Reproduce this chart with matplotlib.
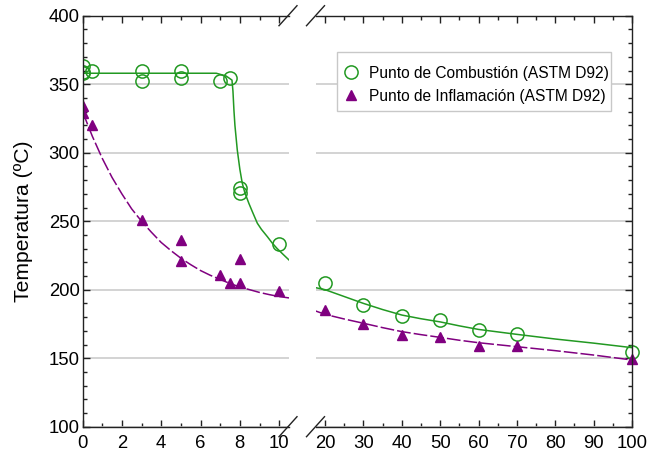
import matplotlib
matplotlib.use("Agg")
import matplotlib.pyplot as plt
from matplotlib.lines import Line2D
from matplotlib.patches import Rectangle
from matplotlib.ticker import MultipleLocator
import numpy as np

plt.rcParams['font.family'] = ['Liberation Sans', 'DejaVu Sans']

# ---- data ----
comb_x_left = [0, 0, 0, 0.5, 3, 3, 5, 5, 7, 7.5, 8, 8, 10]
comb_y_left = [363, 359, 358, 360, 360, 352, 360, 354.5, 352, 354.5, 274.5, 270.5, 233]
comb_x_right = [20, 30, 40, 50, 60, 70, 100]
comb_y_right = [205, 188.5, 180.5, 178, 170.5, 168, 154.5]

infl_x_left = [0, 0, 0.5, 3, 5, 5, 7, 7.5, 8, 8, 10]
infl_y_left = [334, 329, 320, 251, 236.5, 221, 210.5, 205, 205, 222.5, 199]
infl_x_right = [20, 30, 40, 50, 60, 70, 100]
infl_y_right = [185, 175, 167, 165.5, 159, 159, 149.5]

# fitted curves
fit_comb_left_x = [0, 6.8, 7.3, 7.6, 7.65, 7.7, 7.75, 7.87, 8.0, 8.12, 8.25, 8.46,
                   8.65, 8.89, 9.1, 9.4, 9.65, 9.9, 10.2, 10.5]
fit_comb_left_y = [358, 358, 356, 353, 345, 331, 320, 302, 288, 278, 271, 263,
                   256.5, 248.5, 244, 238.7, 234, 230, 225.8, 221.7]
fit_infl_left_x = [0, 0.5, 1, 1.5, 2, 2.5, 3, 3.5, 4, 4.5, 5, 5.5, 6, 6.5, 7, 7.5, 8, 8.5, 9, 9.5, 10, 10.5]
fit_infl_left_y = [330, 312, 296, 282, 270, 259, 250, 242, 234.5, 228.5, 223, 218.3, 214, 210.5,
                   207.5, 204.5, 202, 200, 198, 196.4, 195, 194]
fit_comb_right_x = [17.5, 20, 25, 30, 35, 40, 45, 50, 55, 60, 70, 80, 90, 100]
fit_comb_right_y = [201.5, 200, 195, 190, 185.5, 181.5, 178.8, 176.5, 173.6, 171, 167.4, 164, 161, 157.7]
fit_infl_right_x = [17.5, 20, 25, 30, 35, 40, 45, 50, 55, 60, 70, 80, 90, 100]
fit_infl_right_y = [184.5, 182, 178.6, 175.5, 172.3, 169.4, 167.2, 165.2, 163.1, 161.3, 158.4, 155.5, 152.3, 148.7]

left_ticks = [0, 2, 4, 6, 8, 10]
right_ticks = [20, 30, 40, 50, 60, 70, 80, 90, 100]
y_ticks = [100, 150, 200, 250, 300, 350, 400]

label_comb = "Punto de Combustión (ASTM D92)"
label_infl = "Punto de Inflamación (ASTM D92)"
ylabel = "Temperatura (ºC)"

GREEN = '#229922'
PURPLE = '#800080'
GRID = '#cccccc'

W, H = 652, 457
fig = plt.figure(figsize=(W / 100, H / 100), dpi=100)

y_top, y_bot = 15.7, 426.7
l1, r1 = 82.5, 289.0
l2, r2 = 315.5, 632.0
ax1 = fig.add_axes([l1 / W, 1 - y_bot / H, (r1 - l1) / W, (y_bot - y_top) / H])
ax2 = fig.add_axes([l2 / W, 1 - y_bot / H, (r2 - l2) / W, (y_bot - y_top) / H])

ms_c = 9.5
ms_t = 7

# left panel
ax1.plot(fit_comb_left_x, fit_comb_left_y, color=GREEN, lw=1.1)
ax1.plot(fit_infl_left_x, fit_infl_left_y, color=PURPLE, lw=1.1, dashes=(9, 2))
ax1.plot(comb_x_left, comb_y_left, ls='none', marker='o', ms=ms_c, mfc='none', mec=GREEN, mew=1.1)
ax1.plot(infl_x_left, infl_y_left, ls='none', marker='^', ms=ms_t, color=PURPLE)

# right panel
ax2.plot(fit_comb_right_x, fit_comb_right_y, color=GREEN, lw=1.1)
ax2.plot(fit_infl_right_x, fit_infl_right_y, color=PURPLE, lw=1.1, dashes=(9, 2))
ax2.plot(comb_x_right, comb_y_right, ls='none', marker='o', ms=ms_c, mfc='none', mec=GREEN, mew=1.1, clip_on=False)
ax2.plot(infl_x_right, infl_y_right, ls='none', marker='^', ms=ms_t, color=PURPLE, clip_on=False)

ax1.set_xlim(0, 10.5)
ax2.set_xlim(17.5, 100)
for ax in (ax1, ax2):
    ax.set_ylim(100, 400)
    ax.set_yticks(y_ticks)
    ax.yaxis.set_minor_locator(MultipleLocator(10))
    ax.grid(axis='y', which='major', color=GRID, lw=1.2)
    ax.set_axisbelow(True)
    ax.tick_params(which='both', direction='in', labelsize=13.3, width=1, color='#222222')
    ax.tick_params(which='major', length=5)
    ax.tick_params(which='minor', length=3)
    for s in ax.spines.values():
        s.set_linewidth(1)
        s.set_color('#222222')

ax1.set_xticks(left_ticks)
ax1.xaxis.set_minor_locator(MultipleLocator(1))
ax2.set_xticks(right_ticks)
ax2.xaxis.set_minor_locator(MultipleLocator(5))

ax1.spines['right'].set_visible(False)
ax2.spines['left'].set_visible(False)
ax1.tick_params(which='both', top=True, right=False, left=True, bottom=True)
ax2.tick_params(which='both', top=True, right=True, left=False, bottom=True, labelleft=False)
ax1.tick_params(axis='x', pad=6)
ax2.tick_params(axis='x', pad=6)
ax1.tick_params(axis='y', pad=2)

ax1.set_ylabel(ylabel, fontsize=15.2, labelpad=11)

# break marks (pixel coordinates)
def slash(cx, cy):
    x0, y0 = cx - 9, cy + 10
    x1, y1 = cx + 9, cy - 10
    fig.add_artist(Line2D([x0 / W, x1 / W], [1 - y0 / H, 1 - y1 / H],
                          transform=fig.transFigure, color='#222222', lw=1))

for cx in (r1 - 1, l2):
    slash(cx, y_top)
    slash(cx, y_bot)

# legend: box drawn separately, entries in a frameless legend
fig.add_artist(Rectangle((337 / W, 1 - 111 / H), (611 - 337) / W, (111 - 52) / H,
                         transform=fig.transFigure, facecolor='white', edgecolor='#c8c8c8',
                         lw=1, zorder=4))
handles = [
    Line2D([], [], ls='none', marker='o', ms=ms_c, mfc='none', mec=GREEN, mew=1.1),
    Line2D([], [], ls='none', marker='^', ms=ms_t, color=PURPLE),
]
leg = fig.legend(handles, [label_comb, label_infl], loc='upper left',
                 bbox_to_anchor=(337 / W, 1 - 58 / H), bbox_transform=fig.transFigure,
                 borderaxespad=0, fontsize=11.2, frameon=False,
                 handlelength=0.85, handletextpad=0.68,
                 borderpad=0.5, labelspacing=0.5)
leg.set_zorder(5)

fig.savefig('out.png', dpi=100)
